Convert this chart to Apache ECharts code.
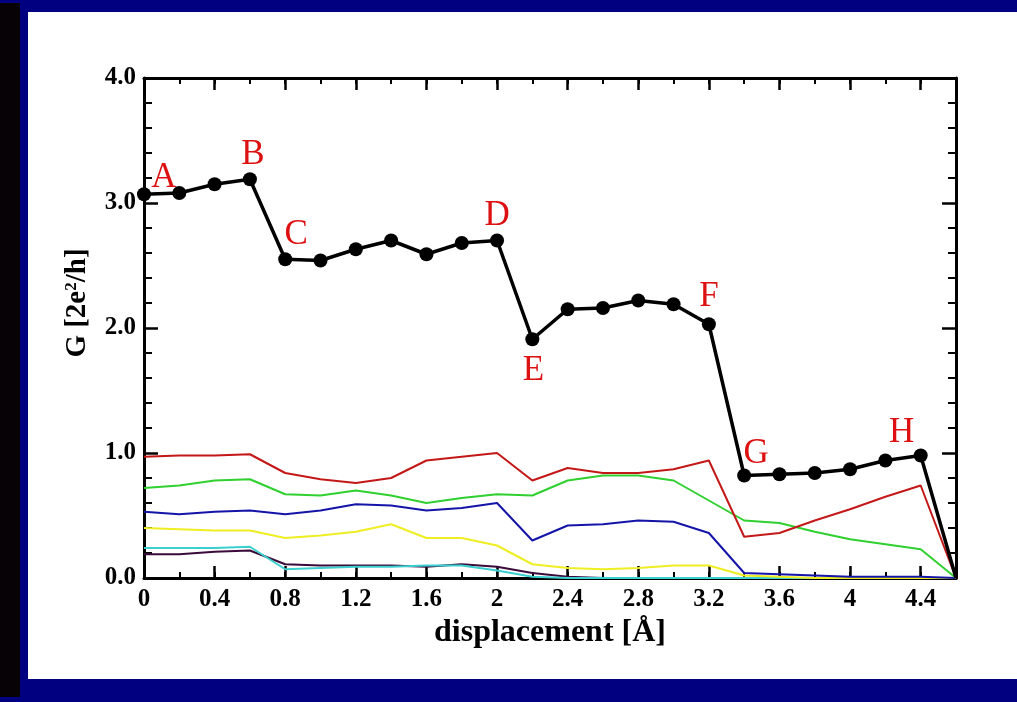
<!DOCTYPE html>
<html>
<head>
<meta charset="utf-8">
<script src="https://cdn.jsdelivr.net/npm/echarts/dist/echarts.min.js"></script>
<style>
  html, body { margin: 0; padding: 0; width: 1017px; height: 702px; overflow: hidden; background: #000080; }
  #strip { position: absolute; left: 0; top: 3px; width: 20px; height: 694px; background: #060206; }
  #paper { position: absolute; left: 28px; top: 12px; width: 989px; height: 667px; background: #ffffff; }
  #chart { position: absolute; left: 0; top: 0; width: 1017px; height: 702px; }
</style>
</head>
<body>
<div id="strip"></div>
<div id="paper"></div>
<div id="chart"></div>
<script>
// ---- data ----
const displacement = [0, 0.2, 0.4, 0.6, 0.8, 1.0, 1.2, 1.4, 1.6, 1.8, 2.0, 2.2, 2.4, 2.6, 2.8, 3.0, 3.2, 3.4, 3.6, 3.8, 4.0, 4.2, 4.4, 4.6];
const totalG  = [3.07, 3.08, 3.15, 3.19, 2.55, 2.54, 2.63, 2.70, 2.59, 2.68, 2.70, 1.91, 2.15, 2.16, 2.22, 2.19, 2.03, 0.82, 0.83, 0.84, 0.87, 0.94, 0.98, 0.0];
const redG    = [0.97, 0.98, 0.98, 0.99, 0.84, 0.79, 0.76, 0.80, 0.94, 0.97, 1.00, 0.78, 0.88, 0.84, 0.84, 0.87, 0.94, 0.33, 0.36, 0.46, 0.55, 0.65, 0.74, 0.0];
const greenG  = [0.72, 0.74, 0.78, 0.79, 0.67, 0.66, 0.70, 0.66, 0.60, 0.64, 0.67, 0.66, 0.78, 0.82, 0.82, 0.78, 0.62, 0.46, 0.44, 0.37, 0.31, 0.27, 0.23, 0.0];
const blueG   = [0.53, 0.51, 0.53, 0.54, 0.51, 0.54, 0.59, 0.58, 0.54, 0.56, 0.60, 0.30, 0.42, 0.43, 0.46, 0.45, 0.36, 0.04, 0.03, 0.02, 0.01, 0.01, 0.01, 0.0];
const yellowG = [0.40, 0.39, 0.38, 0.38, 0.32, 0.34, 0.37, 0.43, 0.32, 0.32, 0.26, 0.11, 0.08, 0.07, 0.08, 0.10, 0.10, 0.02, 0.01, 0.0, 0.0, 0.0, 0.0, 0.0];
const cyanG   = [0.24, 0.24, 0.24, 0.25, 0.07, 0.08, 0.09, 0.09, 0.10, 0.10, 0.06, 0.01, 0.0, 0.0, 0.0, 0.0, 0.0, 0.0, 0.0, 0.0, 0.0, 0.0, 0.0, 0.0];
const purpleG = [0.19, 0.19, 0.21, 0.22, 0.11, 0.10, 0.10, 0.10, 0.09, 0.11, 0.09, 0.04, 0.01, 0.0, 0.0, 0.0, 0.0, 0.0, 0.0, 0.0, 0.0, 0.0, 0.0, 0.0];
// letter annotations: index into displacement, text
const pointLetters = [[0, 'A'], [3, 'B'], [4, 'C'], [10, 'D'], [11, 'E'], [16, 'F'], [17, 'G'], [22, 'H']];
const xTickLabels = ['0', '0.4', '0.8', '1.2', '1.6', '2', '2.4', '2.8', '3.2', '3.6', '4', '4.4'];

// ---- styling ----
const SERIF = 'Liberation Serif';
const letterOffsets = { A: [20, -16], B: [3, -24], C: [11, -24], D: [0, -25], E: [1, 32], F: [0, -27], G: [12, -22], H: [-19, -23] };

const chart = echarts.init(document.getElementById('chart'), null, { renderer: 'canvas' });

function pairs(vals) { return displacement.map((x, i) => [x, vals[i]]); }

const letterMap = {};
pointLetters.forEach(([i, t]) => { letterMap[i] = t; });

const blackData = displacement.map((x, i) => {
  const item = { value: [x, totalG[i]] };
  if (i === displacement.length - 1) item.symbol = 'none';
  if (letterMap[i] !== undefined) {
    const t = letterMap[i];
    item.label = {
      show: true, position: 'inside', formatter: t, offset: letterOffsets[t],
      color: '#dd1111', fontFamily: SERIF, fontSize: 35, fontWeight: 'normal'
    };
  }
  return item;
});

function fmtX(v) {
  const k = Math.round(v * 10);
  if (k % 4 !== 0 || k > 44) return '';
  return xTickLabels[k / 4];
}

const axisLineStyle = { color: '#000', width: 3 };
const minorX = { min: 0, max: 4.6, interval: 0.2, gridIndex: 0,
  axisLine: { show: true, lineStyle: axisLineStyle, onZero: false },
  axisTick: { show: true, inside: true, length: 6, lineStyle: { color: '#000', width: 2 } },
  splitLine: { show: false } };
const majorX = { min: 0, max: 4.6, interval: 0.4, gridIndex: 0,
  axisLine: { show: false, onZero: false },
  axisTick: { show: true, inside: true, length: 12, lineStyle: { color: '#000', width: 2.5 } },
  axisLabel: { show: false }, splitLine: { show: false } };

const option = {
  animation: false,
  backgroundColor: 'transparent',
  grid: { left: 144, top: 78, width: 812, height: 500, containLabel: false },
  xAxis: [
    Object.assign({}, minorX, { position: 'bottom',
      axisLabel: { show: true, formatter: fmtX, color: '#000', fontFamily: SERIF, fontWeight: 'bold', fontSize: 25, margin: 9, showMaxLabel: true },
      name: 'displacement [Å]', nameLocation: 'middle', nameGap: 38,
      nameTextStyle: { color: '#000', fontFamily: SERIF, fontWeight: 'bold', fontSize: 32 } }),
    Object.assign({}, majorX, { position: 'bottom' }),
    Object.assign({}, minorX, { position: 'top', axisLabel: { show: false } }),
    Object.assign({}, majorX, { position: 'top' })
  ],
  yAxis: [
    { type: 'value', position: 'left', min: 0, max: 4, interval: 1,
      axisLine: { show: true, lineStyle: axisLineStyle, onZero: false },
      axisTick: { show: true, inside: true, length: 14, lineStyle: { color: '#000', width: 2.5 } },
      minorTick: { show: true, splitNumber: 5, length: 8, lineStyle: { color: '#000', width: 2 } },
      axisLabel: { formatter: v => v.toFixed(1), color: '#000', fontFamily: SERIF, fontWeight: 'bold', fontSize: 25, margin: 8 },
      splitLine: { show: false }, minorSplitLine: { show: false },
      name: 'G [2e{sup|2}/h]', nameLocation: 'middle', nameGap: 52, nameRotate: 90,
      nameTextStyle: { color: '#000', fontFamily: SERIF, fontWeight: 'bold', fontSize: 29, padding: [0, 0, 0, 50],
        rich: { sup: { fontFamily: SERIF, fontWeight: 'bold', fontSize: 17, verticalAlign: 'top', padding: [0, 0, 12, 0], color: '#000' } } } },
    { type: 'value', position: 'right', min: 0, max: 4, interval: 1,
      axisLine: { show: true, lineStyle: axisLineStyle, onZero: false },
      axisTick: { show: true, inside: true, length: 14, lineStyle: { color: '#000', width: 2.5 } },
      minorTick: { show: true, splitNumber: 5, length: 8, lineStyle: { color: '#000', width: 2 } },
      axisLabel: { show: false }, splitLine: { show: false }, minorSplitLine: { show: false } }
  ],
  series: [
    { type: 'line', name: 'purple', data: pairs(purpleG), showSymbol: false, lineStyle: { color: '#3a0a3a', width: 2 }, z: 2 },
    { type: 'line', name: 'cyan', data: pairs(cyanG), showSymbol: false, lineStyle: { color: '#3ccfcf', width: 2 }, z: 2 },
    { type: 'line', name: 'yellow', data: pairs(yellowG), showSymbol: false, lineStyle: { color: '#eeee22', width: 2 }, z: 2 },
    { type: 'line', name: 'blue', data: pairs(blueG), showSymbol: false, lineStyle: { color: '#1414a8', width: 2 }, z: 2 },
    { type: 'line', name: 'green', data: pairs(greenG), showSymbol: false, lineStyle: { color: '#2fd02f', width: 2 }, z: 2 },
    { type: 'line', name: 'red', data: pairs(redG), showSymbol: false, lineStyle: { color: '#c41818', width: 2 }, z: 2 },
    { type: 'line', name: 'total', data: blackData, symbol: 'circle', symbolSize: 14, showSymbol: true,
      itemStyle: { color: '#000' }, lineStyle: { color: '#000', width: 3.5 }, z: 5 }
  ]
};
chart.setOption(option);
</script>
</body>
</html>
